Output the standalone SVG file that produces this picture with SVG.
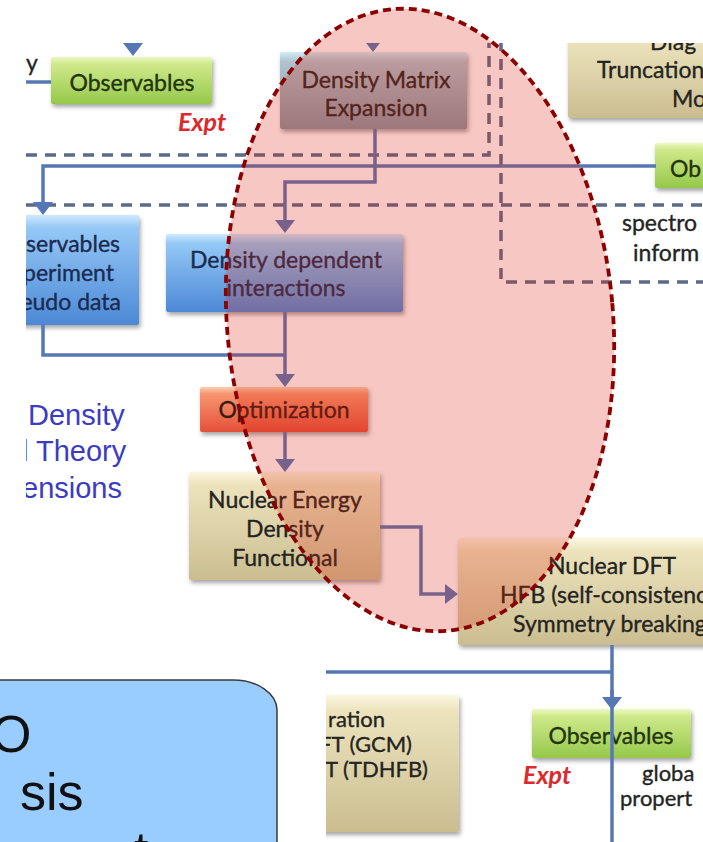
<svg xmlns="http://www.w3.org/2000/svg" width="703" height="842" viewBox="0 0 703 842">
<style>
.t{font-family:Lato,"Open Sans","Liberation Sans",sans-serif;font-size:23px;fill:#24241f;stroke:#24241f;stroke-width:0.35}
.s{font-size:22px}
.c{text-anchor:middle}
.e{text-anchor:end}
.gr{fill:#22340e;stroke:#22340e}
.nv{fill:#1a2b50;stroke:#1a2b50}
.expt{font-family:Lato,"Liberation Sans",sans-serif;font-size:25px;font-weight:bold;font-style:italic;fill:#dc2a2c}
.side{font-family:"Liberation Sans",Arial,sans-serif;font-size:29px;fill:#3b3bc4}
.big{font-family:"Liberation Sans",Arial,sans-serif;font-size:52px;fill:#111}
.ln{fill:none;stroke:#5677b5;stroke-width:3.5}
.dl{fill:none;stroke:#5b6a88;stroke-width:3.5;stroke-dasharray:11 8}
.box{filter:url(#sh)}
</style>
<defs>
<linearGradient id="gGreen" x1="0" y1="0" x2="0" y2="1"><stop offset="0" stop-color="#ecf8c4"/><stop offset="0.15" stop-color="#cfe98a"/><stop offset="1" stop-color="#95c84a"/></linearGradient>
<linearGradient id="gBlue" x1="0" y1="0" x2="0" y2="1"><stop offset="0" stop-color="#cfe9ff"/><stop offset="0.12" stop-color="#94c8f6"/><stop offset="1" stop-color="#4c88d6"/></linearGradient>
<linearGradient id="gGray" x1="0" y1="0" x2="0" y2="1"><stop offset="0" stop-color="#d0eef6"/><stop offset="0.12" stop-color="#b0c4d0"/><stop offset="1" stop-color="#86949f"/></linearGradient>
<linearGradient id="gOrange" x1="0" y1="0" x2="0" y2="1"><stop offset="0" stop-color="#fcd0b0"/><stop offset="0.15" stop-color="#f79670"/><stop offset="1" stop-color="#e4503a"/></linearGradient>
<linearGradient id="gTan" x1="0" y1="0" x2="0" y2="1"><stop offset="0" stop-color="#fbf7e0"/><stop offset="0.12" stop-color="#ece3bd"/><stop offset="1" stop-color="#cbbd90"/></linearGradient>
<filter id="sh" x="-10%" y="-10%" width="125%" height="130%"><feDropShadow dx="1.5" dy="3" stdDeviation="2" flood-color="#000" flood-opacity="0.35"/></filter>
<marker id="ah" viewBox="0 0 13 20" refX="5" refY="10" markerWidth="13" markerHeight="20" markerUnits="userSpaceOnUse" orient="auto"><path d="M0,0 L13,10 L0,20 Z" fill="#5677b5"/></marker>
<clipPath id="img"><rect x="26" y="43" width="677" height="620"/><rect x="326" y="663" width="377" height="179"/></clipPath>
</defs>
<rect width="703" height="842" fill="#fff"/>
<g clip-path="url(#img)">
<g id="nodes">
<g id="label-y"><text class="t" x="26" y="71">y</text></g>
<g id="obs-top"><rect class="box" x="51" y="57" width="161" height="47" rx="2" fill="url(#gGreen)"/><text class="t c gr" x="132" y="91">Observables</text></g>
<g id="expt-top"><text class="expt" x="178" y="131">Expt</text></g>
<g id="dme"><rect class="box" x="280" y="52" width="187" height="77" rx="2" fill="url(#gGray)"/><text class="t c" x="376" y="88">Density Matrix</text><text class="t c" x="376" y="116">Expansion</text></g>
<g id="trunc"><rect class="box" x="568" y="30" width="150" height="88" rx="2" fill="url(#gTan)"/><text class="t" x="650" y="50">Diag</text><text class="t" x="597" y="78">Truncation</text><text class="t" x="672" y="107">Mo</text></g>
<g id="obs-right"><rect class="box" x="655" y="143" width="60" height="45" rx="2" fill="url(#gGreen)"/><text class="t gr" x="670" y="177">Ob</text></g>
<g id="spectro"><text class="t" x="622" y="231">spectro</text><text class="t" x="633" y="261">inform</text></g>
<g id="obs-exp"><rect class="box" x="10" y="215" width="129" height="110" rx="2" fill="url(#gBlue)"/><text class="t e nv" x="120" y="252">servables</text><text class="t e nv" x="114" y="281">periment</text><text class="t e nv" x="121" y="310">eudo data</text></g>
<g id="ddi"><rect class="box" x="166" y="234" width="237" height="78" rx="2" fill="url(#gBlue)"/><text class="t c nv" x="286" y="268">Density dependent</text><text class="t c nv" x="286" y="296">interactions</text></g>
<g id="dft-label"><text class="side" x="28" y="425">Density</text><text class="side" x="22" y="461">l Theory</text><text class="side" x="22" y="498">ensions</text></g>
<g id="opt"><rect class="box" x="200" y="387" width="168" height="45" rx="2" fill="url(#gOrange)"/><text class="t c" x="284" y="418" style="fill:#3a1a12;stroke:#3a1a12">Optimization</text></g>
<g id="nedf"><rect class="box" x="189" y="472" width="191" height="108" rx="2" fill="url(#gTan)"/><text class="t c" x="285" y="508">Nuclear Energy</text><text class="t c" x="285" y="537">Density</text><text class="t c" x="285" y="566">Functional</text></g>
<g id="ndft"><rect class="box" x="458" y="538" width="260" height="107" rx="2" fill="url(#gTan)"/><text class="t c" x="612" y="574">Nuclear DFT</text><text class="t" x="500" y="603">HFB (self-consistenc</text><text class="t" x="513" y="632">Symmetry breaking</text></g>
<g id="gen"><rect class="box" x="300" y="695" width="159" height="137" rx="2" fill="url(#gTan)"/><text class="t s e" x="385" y="727">ration</text><text class="t s e" x="412" y="752">FT (GCM)</text><text class="t s e" x="428" y="777">T (TDHFB)</text></g>
<g id="obs-bottom"><rect class="box" x="532" y="709" width="159" height="49" rx="2" fill="url(#gGreen)"/><text class="t c gr" x="611" y="744">Observables</text></g>
<g id="expt-bottom"><text class="expt" x="523" y="784">Expt</text></g>
<g id="global"><text class="t s" x="642" y="781">globa</text><text class="t s" x="620" y="806">propert</text></g>
</g>
<g id="connectors">
<path class="ln" d="M26,82 H51"/>
<path class="ln" d="M133,30 V48" marker-end="url(#ah)"/>
<path class="ln" d="M373,30 V44" marker-end="url(#ah)"/>
<path class="dl" d="M26,155 H489 V40"/>
<path class="dl" d="M501,40 V282 H703"/>
<path class="dl" d="M26,205 H703"/>
<path class="ln" d="M656,166 H43 V207" marker-end="url(#ah)"/>
<path class="ln" d="M375,129 V182 H285 V225" marker-end="url(#ah)"/>
<path class="ln" d="M43,325 V355 H285"/>
<path class="ln" d="M285,312 V379" marker-end="url(#ah)"/>
<path class="ln" d="M285,432 V464" marker-end="url(#ah)"/>
<path class="ln" d="M380,527 H421 V594 H450" marker-end="url(#ah)"/>
<path class="ln" d="M612,645 V842"/>
<path class="ln" d="M326,672 H612"/>
<path class="ln" d="M612,690 V702" marker-end="url(#ah)"/>
</g>
</g>
<g id="highlight"><ellipse cx="420" cy="320" rx="193" ry="312" transform="rotate(-5 420 320)" fill="#df2310" fill-opacity="0.25" stroke="#8b0000" stroke-width="3.8" stroke-dasharray="8 5"/></g>
<g id="callout"><path d="M-3,680 H233 A44,30 0 0 1 277,710 V845 H-3 Z" fill="#99ccff" stroke="#3a3a3a" stroke-width="1.5"/><text class="big" x="-9" y="752">O</text><text class="big" x="20" y="810">sis</text><text class="big" x="134" y="868">t</text></g>
</svg>
